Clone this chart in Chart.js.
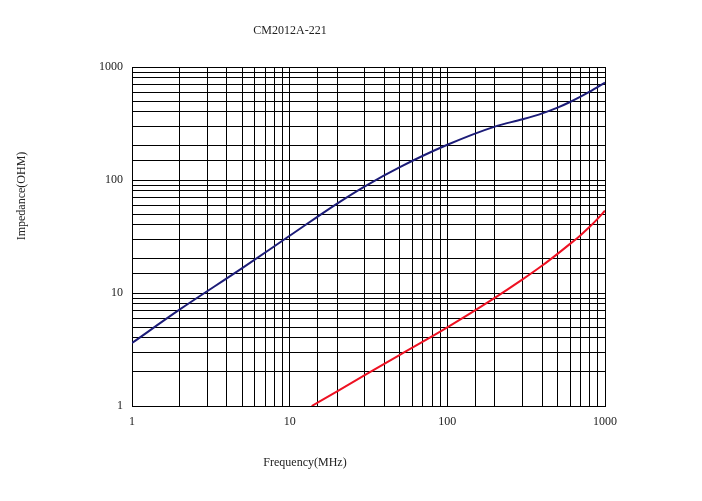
<!DOCTYPE html>
<html>
<head>
<meta charset="utf-8">
<script src="https://cdn.jsdelivr.net/npm/chart.js@4.4.1/dist/chart.umd.min.js"></script>
<style>
  html, body { margin: 0; padding: 0; background: #fff; }
  #wrap { width: 702px; height: 501px; }
</style>
</head>
<body>
<div id="wrap"><canvas id="miChart" width="702" height="501"></canvas></div>
<script>
// Datos
const titleText = "CM2012A-221";
const xTitle = "Frequency(MHz)";
const yTitle = "Impedance(OHM)";

const blueFreq = [1, 2, 5, 10, 20, 30, 50, 100, 200, 300, 400, 500, 600, 700, 800, 1000];
const blueZ = [3.61, 7.12, 16.6, 32.1, 61.9, 88, 130, 205, 297, 345, 389, 437, 490, 546, 604, 728];

const redFreq = [13.8, 20, 50, 100, 200, 300, 400, 500, 600, 700, 800, 900, 1000];
const redZ = [1, 1.35, 2.84, 4.97, 9.07, 13.2, 17.5, 22.2, 27.2, 32.5, 38.5, 45.5, 53.5];

const majorTicks = [1, 10, 100, 1000];

const toPoints = (xs, ys) => xs.map((x, i) => ({ x: x, y: ys[i] }));

const fontSerif = "'Liberation Serif', 'DejaVu Serif', serif";

// Textos fijos (titulo y ejes)
const textPlugin = {
    id: 'textos',
    afterDraw(chart) {
        const ctx = chart.ctx;
        ctx.save();
        ctx.fillStyle = '#222';
        ctx.font = "12px " + fontSerif;
        ctx.textAlign = 'center';
        ctx.textBaseline = 'middle';
        ctx.fillText(titleText, 290, 31);
        ctx.fillText(xTitle, 305, 463);
        ctx.translate(22, 196);
        ctx.rotate(-Math.PI / 2);
        ctx.fillText(yTitle, 0, 0);
        ctx.restore();
    }
};

const showMajor = (value) => majorTicks.includes(Number(value)) ? String(value) : '';

new Chart(document.querySelector("#miChart"), {
    type: 'line',
    data: {
        datasets: [
            { data: toPoints(blueFreq, blueZ), borderColor: '#1c1c78', borderWidth: 2, pointRadius: 0, cubicInterpolationMode: 'monotone', fill: false },
            { data: toPoints(redFreq, redZ), borderColor: '#ee1122', borderWidth: 2, pointRadius: 0, cubicInterpolationMode: 'monotone', fill: false }
        ]
    },
    options: {
        responsive: false,
        animation: false,
        layout: { padding: { left: 0, right: 97, top: 67, bottom: 0 } },
        plugins: { legend: { display: false }, title: { display: false }, tooltip: { enabled: false } },
        scales: {
            x: {
                type: 'logarithmic',
                min: 1, max: 1000,
                grid: { color: '#000', lineWidth: 1, tickLength: 0, drawTicks: false },
                border: { color: '#000', width: 1 },
                ticks: { autoSkip: false, maxRotation: 0, padding: 9, color: '#222', font: { family: fontSerif, size: 12 }, callback: showMajor },
                afterFit: (scale) => { scale.height = 95; }
            },
            y: {
                type: 'logarithmic',
                min: 1, max: 1000,
                grid: { color: '#000', lineWidth: 1, tickLength: 0, drawTicks: false },
                border: { color: '#000', width: 1 },
                ticks: { autoSkip: false, padding: 9, color: '#222', font: { family: fontSerif, size: 12 }, callback: showMajor },
                afterFit: (scale) => { scale.width = 132; }
            }
        }
    },
    plugins: [textPlugin]
});
</script>
</body>
</html>
